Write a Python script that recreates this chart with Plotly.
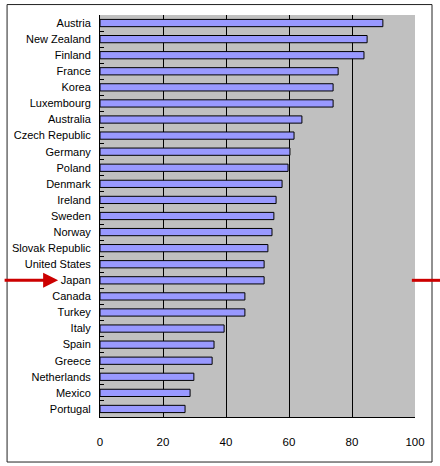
import plotly.graph_objects as go

# values
countries = [
    "Austria", "New Zealand", "Finland", "France", "Korea", "Luxembourg",
    "Australia", "Czech Republic", "Germany", "Poland", "Denmark", "Ireland",
    "Sweden", "Norway", "Slovak Republic", "United States", "Japan", "Canada",
    "Turkey", "Italy", "Spain", "Greece", "Netherlands", "Mexico", "Portugal",
]
values = [
    89.8, 84.8, 83.8, 75.6, 74.0, 74.0,
    64.1, 61.6, 60.3, 59.7, 57.8, 55.9,
    55.2, 54.6, 53.3, 52.1, 52.1, 46.0,
    46.0, 39.4, 36.2, 35.6, 29.8, 28.6, 27.0,
]
x_ticks = [0, 20, 40, 60, 80, 100]
highlight = "Japan"

FONT = "Liberation Sans, Arial, sans-serif"
RED = "#CC0000"

fig = go.Figure(
    go.Bar(
        x=values,
        y=countries,
        orientation="h",
        width=0.45,
        marker=dict(color="#9999FF", line=dict(color="black", width=1)),
        hoverinfo="x+y",
    )
)

hi = countries.index(highlight)

# arrow pointing at the highlighted country label
fig.add_annotation(
    x=-0.133, xref="paper", y=hi, yref="y",
    ax=-55, ay=0, axref="pixel", ayref="pixel",
    showarrow=True, arrowhead=2, arrowsize=1, arrowwidth=3,
    arrowcolor=RED, text="",
)
# short marker on the right-hand side
fig.add_shape(
    type="line", xref="paper", yref="y",
    x0=0.99, x1=1.08, y0=hi, y1=hi,
    line=dict(color=RED, width=3), layer="above",
)
# outer frame
fig.add_shape(
    type="rect", xref="paper", yref="paper",
    x0=-0.295, x1=1.054, y0=-0.112, y1=1.026,
    line=dict(color="#222222", width=1), layer="below",
)

fig.update_layout(
    width=440,
    height=466,
    margin=dict(l=100, r=25, t=15, b=49),
    paper_bgcolor="white",
    plot_bgcolor="#C0C0C0",
    showlegend=False,
    font=dict(family=FONT, size=11, color="black"),
    bargap=0.55,
)
fig.update_xaxes(
    range=[0, 100],
    tickvals=x_ticks,
    showgrid=True,
    gridcolor="black",
    gridwidth=1,
    zeroline=False,
    showline=True,
    linecolor="black",
    linewidth=1,
    ticks="",
    ticklabelstandoff=14,
    tickfont=dict(family=FONT, size=11.5),
    automargin=False,
    fixedrange=True,
)
fig.update_yaxes(
    autorange="reversed",
    showgrid=False,
    zeroline=False,
    showline=True,
    linecolor="black",
    linewidth=1,
    ticks="inside",
    tickson="boundaries",
    ticklen=4,
    tickcolor="black",
    tickwidth=1,
    ticklabelstandoff=6,
    tickfont=dict(family=FONT, size=11),
    automargin=False,
    fixedrange=True,
)

# the page body has a default 8px margin; drop it so the chart sits at 0,0
fig.write_html(
    "out.html",
    post_script="document.body.style.margin='0';",
    config={"displayModeBar": False},
)
